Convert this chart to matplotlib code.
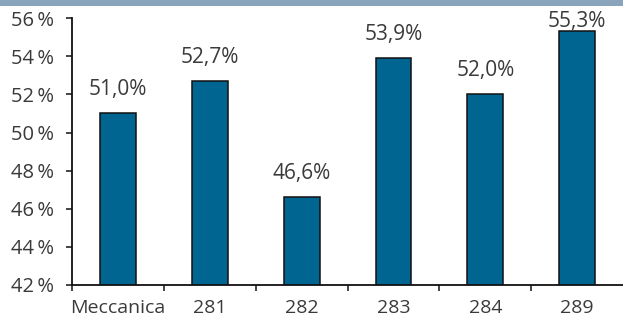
import numpy as np
import matplotlib
matplotlib.use('Agg')
import matplotlib.pyplot as plt
from matplotlib.patches import Rectangle

# data
categories = ['Meccanica', '281', '282', '283', '284', '289']
values = [51.0, 52.7, 46.6, 53.9, 52.0, 55.3]
value_labels = ['51,0%', '52,7%', '46,6%', '53,9%', '52,0%', '55,3%']
yticks = [42, 44, 46, 48, 50, 52, 54, 56]

plt.rcParams['font.family'] = ['Open Sans', 'DejaVu Sans']
text_color = '#3a3a3a'

fig = plt.figure(figsize=(6.23, 3.24), dpi=100)
ax = fig.add_axes([0.1156, 0.1204, 0.8844, 0.8236])

# top band
fig.patches.append(Rectangle((0, 1 - 6 / 324), 1, 6 / 324, transform=fig.transFigure,
                             facecolor='#8aa4bb', edgecolor='none'))

x = np.arange(len(categories))
ax.bar(x, values, width=0.39, bottom=0, color='#006591', edgecolor='#111111', linewidth=1.1)

# labels sit above the bars, but the top one is squeezed under the band
for xi, v, lab in zip(x, values, value_labels):
    ax.text(xi, min(v + 1.25, 55.8), lab, ha='center', va='center',
            fontsize=15, color=text_color, clip_on=False)

ax.set_ylim(42, 56)
ax.set_xlim(-0.5, len(categories) - 0.5)
ax.set_yticks(yticks)
ax.set_yticklabels([f'{t}\u2009%' for t in yticks], fontsize=14.5, color=text_color)

ax.set_xticks(x)
ax.set_xticklabels(categories, fontsize=14, color=text_color)
ax.tick_params(axis='x', length=0, pad=10)
ax.set_xticks(np.arange(-0.5, len(categories) - 0.5, 1.0), minor=True)
ax.tick_params(axis='x', which='minor', length=4, width=1.1, color='#111111', direction='out')
ax.tick_params(axis='y', length=4, width=1.1, color='#111111', direction='out', pad=9)

for s in ['top', 'right']:
    ax.spines[s].set_visible(False)
for s in ['left', 'bottom']:
    ax.spines[s].set_linewidth(1.3)
    ax.spines[s].set_color('#111111')

fig.savefig('out.png', dpi=100)
